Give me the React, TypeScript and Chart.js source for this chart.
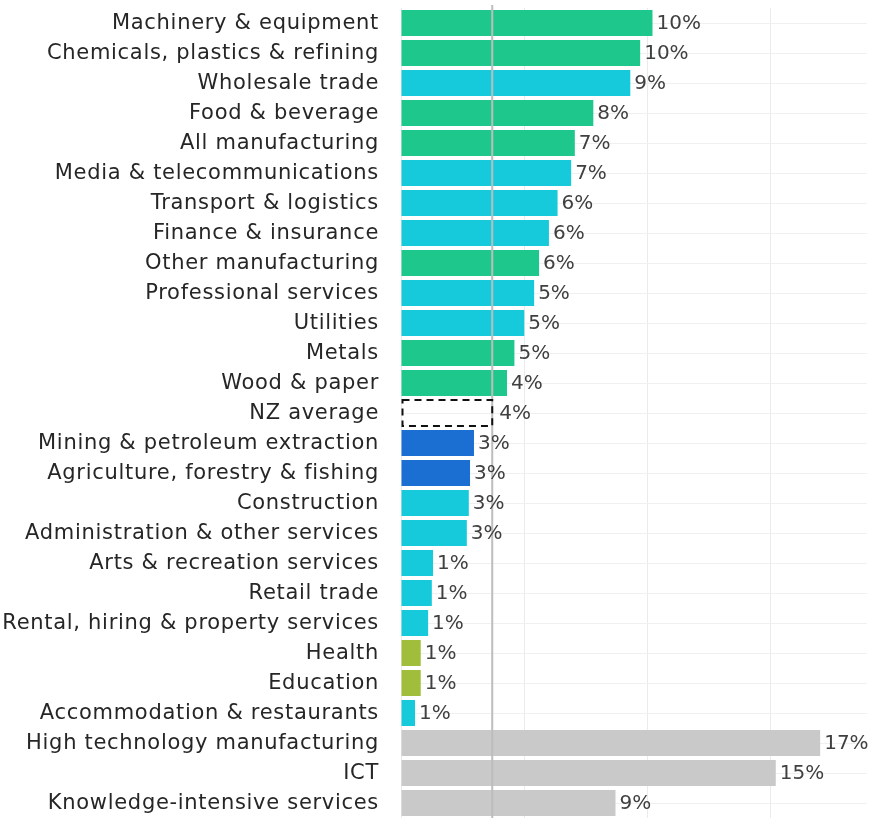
import React, { useEffect, useRef } from "react";
import { Chart, registerables } from "chart.js";

Chart.register(...registerables);

const categories = [
  "Machinery & equipment",
  "Chemicals, plastics & refining",
  "Wholesale trade",
  "Food & beverage",
  "All manufacturing",
  "Media & telecommunications",
  "Transport & logistics",
  "Finance & insurance",
  "Other manufacturing",
  "Professional services",
  "Utilities",
  "Metals",
  "Wood & paper",
  "NZ average",
  "Mining & petroleum extraction",
  "Agriculture, forestry & fishing",
  "Construction",
  "Administration & other services",
  "Arts & recreation services",
  "Retail trade",
  "Rental, hiring & property services",
  "Health",
  "Education",
  "Accommodation & restaurants",
  "High technology manufacturing",
  "ICT",
  "Knowledge-intensive services",
];

const values = [
  10.2, 9.7, 9.3, 7.8, 7.05, 6.9, 6.35, 6.0, 5.6, 5.4, 5.0, 4.6, 4.3, 3.7,
  2.96, 2.8, 2.75, 2.67, 1.3, 1.25, 1.1, 0.8, 0.8, 0.57, 17.0, 15.2, 8.7,
];

const groups = [
  "mfg", "mfg", "svc", "mfg", "mfg", "svc", "svc", "svc", "mfg", "svc", "svc",
  "mfg", "mfg", "avg", "primary", "primary", "svc", "svc", "svc", "svc", "svc",
  "public", "public", "svc", "tech", "tech", "tech",
];

const groupColors: Record<string, string> = {
  mfg: "#1ec88c",
  svc: "#16cadc",
  primary: "#1b6fd3",
  public: "#a0be3c",
  tech: "#c9c9c9",
  avg: "rgba(0,0,0,0)",
};

const FONT = "'DejaVu Sans', sans-serif";

const overlayPlugin = {
  id: "overlay",
  afterDatasetsDraw(chart: any) {
    const ctx = chart.ctx;
    const xScale = chart.scales.x;
    const yScale = chart.scales.y;
    const meta = chart.getDatasetMeta(0);
    const idx = groups.indexOf("avg");
    ctx.save();
    // category labels
    ctx.fillStyle = "#262626";
    ctx.font = `21px ${FONT}`;
    (ctx as any).letterSpacing = "0.7px";
    ctx.textAlign = "right";
    ctx.textBaseline = "middle";
    categories.forEach((c, i) => {
      ctx.fillText(c, xScale.left - 22, yScale.getPixelForValue(i) + 1);
    });
    (ctx as any).letterSpacing = "0px";
    // average line
    const ax = xScale.getPixelForValue(values[idx]);
    ctx.strokeStyle = "#bdbdbd";
    ctx.lineWidth = 2;
    ctx.beginPath();
    ctx.moveTo(ax, 5);
    ctx.lineTo(ax, chart.height);
    ctx.stroke();
    // dashed box for average
    const bar = meta.data[idx];
    const p = bar.getProps(["x", "y", "base", "height"], true);
    ctx.setLineDash([7, 5]);
    ctx.strokeStyle = "#111111";
    ctx.lineWidth = 2;
    ctx.strokeRect(p.base + 1, p.y - p.height / 2, p.x - p.base - 1, p.height);
    ctx.setLineDash([]);
    // value labels
    ctx.fillStyle = "#404040";
    ctx.font = `20px ${FONT}`;
    ctx.textBaseline = "middle";
    ctx.textAlign = "left";
    meta.data.forEach((el: any, i: number) => {
      const q = el.getProps(["x", "y"], true);
      const gap = i === idx ? 7 : 4;
      ctx.fillText(`${Math.round(values[i])}%`, q.x + gap, q.y + 1);
    });
    ctx.restore();
  },
};

export default function App() {
  const ref = useRef<HTMLCanvasElement | null>(null);
  useEffect(() => {
    if (!ref.current) return;
    const chart = new Chart(ref.current, {
      type: "bar",
      data: {
        labels: categories,
        datasets: [
          {
            data: values,
            backgroundColor: groups.map((g) => groupColors[g]),
            borderWidth: 0,
            barPercentage: 0.867,
            categoryPercentage: 1,
          },
        ],
      },
      options: {
        indexAxis: "y",
        animation: false,
        responsive: true,
        maintainAspectRatio: false,
        layout: { padding: { top: 8, right: 4, bottom: 0, left: 0 } },
        plugins: {
          legend: { display: false },
          tooltip: { enabled: false },
        },
        scales: {
          x: {
            min: 0,
            max: 18.9,
            border: { display: false },
            grid: { color: "#ebebeb", lineWidth: 1, drawTicks: false },
            ticks: { display: false, stepSize: 5 },
            afterBuildTicks: (scale: any) => {
              scale.ticks = scale.ticks.filter((t: any) => t.value % 5 === 0);
            },
          },
          y: {
            border: { display: false },
            grid: { color: "#f0f0f0", offset: false, drawTicks: false },
            ticks: { display: false, autoSkip: false },
            afterFit: (scale: any) => {
              scale.width = 401;
              scale.paddingTop = 0;
              scale.paddingBottom = 0;
            },
          },
        },
      },
      plugins: [overlayPlugin],
    });
    return () => chart.destroy();
  }, []);
  return (
    <div style={{ position: "fixed", left: 0, top: 0, width: 871, height: 818, background: "#fff" }}>
      <canvas ref={ref} />
    </div>
  );
}
